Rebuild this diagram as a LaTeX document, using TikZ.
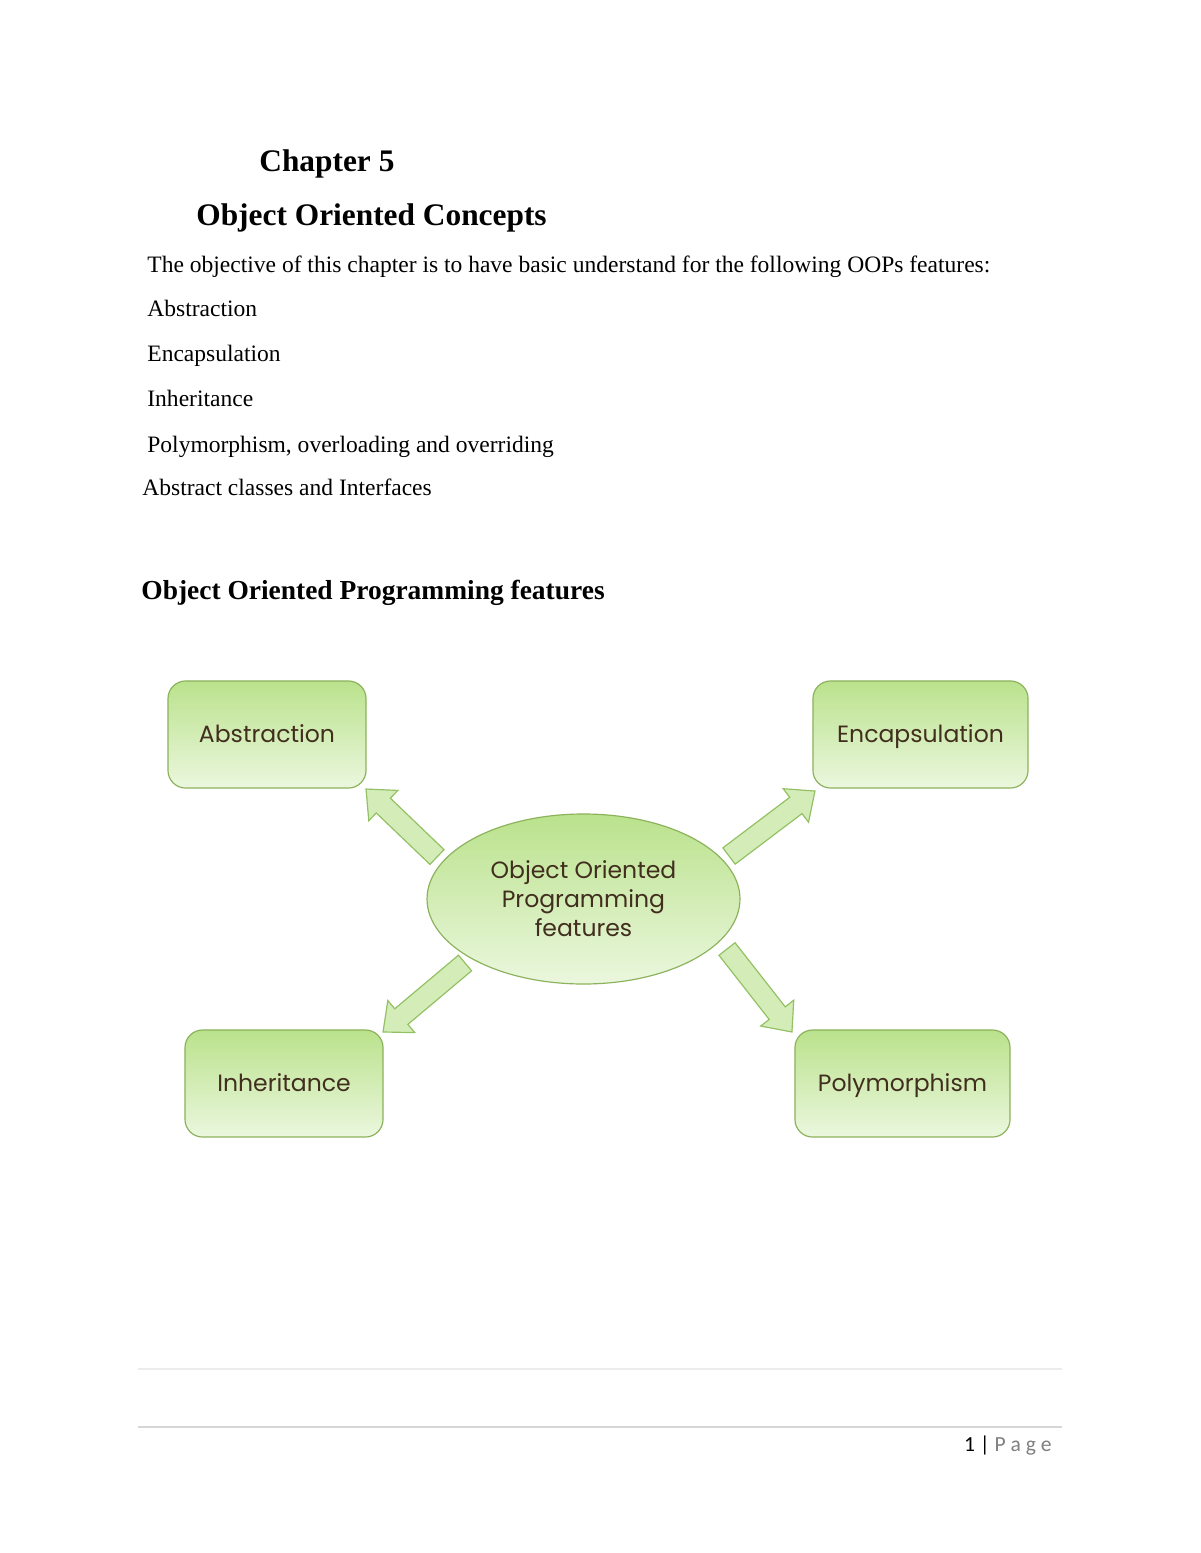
\documentclass[tikz,border=0pt]{standalone}
\usepackage{fontspec}
\setmainfont{Liberation Serif}
\newfontfamily\diag{Poppins}
\newfontfamily\foot{Carlito}
\usetikzlibrary{calc,shapes.geometric}
\definecolor{gtop}{RGB}{186,226,140}
\definecolor{gbot}{RGB}{235,247,222}
\definecolor{gedge}{RGB}{140,178,92}
\definecolor{afill}{RGB}{212,237,184}
\definecolor{aedge}{RGB}{146,192,98}
\definecolor{dtext}{RGB}{66,46,30}
\tikzset{
  featbox/.style={rectangle, rounded corners=9pt, draw=gedge, line width=0.6pt,
    top color=gtop, bottom color=gbot, minimum width=#1, minimum height=54.6pt,
    text height=8.5pt, text depth=0pt,
    inner sep=0pt, outer sep=0pt, text=dtext, font={\diag\fontsize{12}{14.8}\selectfont}},
  centre/.style={ellipse, draw=gedge, line width=0.6pt, top color=gtop, bottom color=gbot,
    minimum width=159.6pt, minimum height=86.7pt, inner sep=0pt, outer sep=0pt,
    text=dtext, align=center, font={\diag\fontsize{12}{14.8}\selectfont}},
  blockarr/.style={fill=afill, draw=aedge, line width=0.6pt, line join=miter},
  bodytext/.style={anchor=base west, inner sep=0pt, font=\fontsize{12}{14}\selectfont},
  headtext/.style={anchor=base west, inner sep=0pt, font=\bfseries\fontsize{16}{19}\selectfont},
  subhead/.style={anchor=base west, inner sep=0pt, font=\bfseries\fontsize{14}{17}\selectfont}
}
% block arrow from #1 (tail) to #2 (tip)
\newcommand\blockarrow[2]{%
  \path ($(#2)!12.2pt!(#1)$) coordinate (hb);
  \draw[blockarr] ($(#1)!5.2pt!90:(#2)$) -- ($(hb)!5.2pt!-90:(#1)$) -- ($(hb)!10.7pt!-90:(#1)$)
    -- (#2) -- ($(hb)!10.7pt!90:(#1)$) -- ($(hb)!5.2pt!90:(#1)$) -- ($(#1)!5.2pt!-90:(#2)$) -- cycle;}
\begin{document}
\begin{tikzpicture}[x=0.51pt,y=-0.51pt]
\useasboundingbox (0,0) rectangle (1200,1553);
\fill[white] (0,0) rectangle (1200,1553);
% header text
\node[headtext] (chap) at (259,172) {Chapter 5};
\node[headtext] (title) at (196,225) {Object Oriented Concepts};
\node[bodytext] (obj) at (147,272) {The objective of this chapter is to have basic understand for the following OOPs features:};
\node[bodytext] (l1) at (147,316) {Abstraction};
\node[bodytext] (l2) at (147,361) {Encapsulation};
\node[bodytext] (l3) at (147,406) {Inheritance};
\node[bodytext] (l4) at (147,452) {Polymorphism, overloading and overriding};
\node[bodytext] (l5) at (142,495) {Abstract classes and Interfaces};
\node[subhead] (sub) at (141,599) {Object Oriented Programming features};
% diagram
\node[featbox=101pt] (abs) at (267,734.5) {Abstraction};
\node[featbox=109.7pt] (enc) at (920.5,734.5) {Encapsulation};
\node[featbox=101pt] (inh) at (284,1083.5) {Inheritance};
\node[featbox=109.7pt] (poly) at (902.5,1083.5) {Polymorphism};
\node[centre] (oop) at (583.5,899) {Object Oriented\\Programming\\features};
\coordinate (t1) at (437,857);
\coordinate (t2) at (729,856);
\coordinate (t3) at (465,963);
\coordinate (t4) at (727,949);
\coordinate (h1) at ($(abs.south east)+(0,1)$);
\coordinate (h2) at ($(enc.south west)+(2,3)$);
\coordinate (h3) at ($(inh.north east)+(0,2)$);
\coordinate (h4) at ($(poly.north west)+(-3,2)$);
\blockarrow{t1}{h1}
\blockarrow{t2}{h2}
\blockarrow{t3}{h3}
\blockarrow{t4}{h4}
% footer
\draw[color={rgb,255:red,236;green,236;blue,236}, line width=1.5pt] (138,1369) -- (1062,1369);
\draw[color={rgb,255:red,214;green,214;blue,214}, line width=1.5pt] (138,1427) -- (1062,1427);
\node[anchor=base east, inner sep=0pt, font={\foot\fontsize{11}{13}\selectfont}] (pg) at (1052,1451)
  {1 | \textcolor{gray}{P a g e}};
\end{tikzpicture}
\end{document}
